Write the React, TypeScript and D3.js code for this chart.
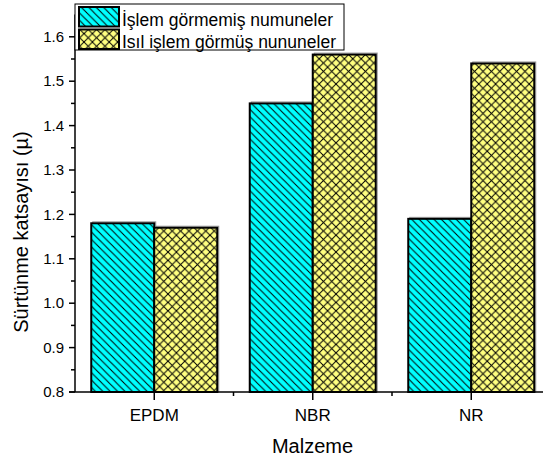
import React from 'react';
import * as d3 from 'd3';

const categories = ['EPDM', 'NBR', 'NR'];
const untreated = [1.18, 1.45, 1.19];
const treated = [1.17, 1.56, 1.54];
const seriesNames = ['İşlem görmemiş numuneler', 'Isıl işlem görmüş nununeler'];
const yTicks = [0.8, 0.9, 1.0, 1.1, 1.2, 1.3, 1.4, 1.5, 1.6];
const yMinorTicks = [0.85, 0.95, 1.05, 1.15, 1.25, 1.35, 1.45, 1.55];

const FONT = '"Liberation Sans", Arial, sans-serif';

const App = () => {
    const width = 543;
    const height = 457;

    const x = d3.scaleBand<string>()
        .domain(categories)
        .range([75, 550.5])
        .paddingInner(0.205)
        .paddingOuter(0.1025);

    const xSub = d3.scaleBand<string>()
        .domain(['a', 'b'])
        .range([0, x.bandwidth()]);

    const y = d3.scaleLinear()
        .domain([0.8, 1.65])
        .range([392, 14.6]);

    const step = x.step();
    const centers = categories.map(c => (x(c) as number) + x.bandwidth() / 2);
    const boundaries = categories.slice(1).map(c => (x(c) as number) - (step - x.bandwidth()) / 2);

    const series = [
        {key: 'a', values: untreated, fill: 'url(#hatchCyan)'},
        {key: 'b', values: treated, fill: 'url(#hatchYellow)'},
    ];

    const p = 7.4;
    const q = 8.4;

    return (
        <svg width={width} height={height} style={{position: 'absolute', left: 0, top: 0}}
             fontFamily={FONT}>
            <defs>
                <pattern id="hatchCyan" patternUnits="userSpaceOnUse" width={p} height={p}>
                    <rect width={p} height={p} fill="#00ffff"/>
                    <path d={`M0,0L${p},${p}M${-p / 2},${p / 2}L${p / 2},${p * 1.5}M${p / 2},${-p / 2}L${p * 1.5},${p / 2}`}
                          stroke="#000" strokeWidth={1}/>
                </pattern>
                <pattern id="hatchYellow" patternUnits="userSpaceOnUse" width={q} height={q}>
                    <rect width={q} height={q} fill="#ffff80"/>
                    <path d={`M0,0L${q},${q}M${-q / 2},${q / 2}L${q / 2},${q * 1.5}M${q / 2},${-q / 2}L${q * 1.5},${q / 2}`}
                          stroke="#000" strokeWidth={1}/>
                    <path d={`M0,${q}L${q},0M${-q / 2},${q / 2}L${q / 2},${-q / 2}M${q / 2},${q * 1.5}L${q * 1.5},${q / 2}`}
                          stroke="#000" strokeWidth={1}/>
                </pattern>
            </defs>

            {/* bars */}
            {series.map(s => categories.map((c, i) => {
                const bx = (x(c) as number) + (xSub(s.key) as number);
                const by = y(s.values[i]);
                return (
                    <g key={s.key + c}>
                        <rect x={bx + 1.5} y={by - 1.5} width={xSub.bandwidth()} height={y(0.8) - by + 1.5}
                              fill="none" stroke="#999" strokeWidth={1}/>
                        <rect x={bx} y={by} width={xSub.bandwidth()} height={y(0.8) - by}
                              fill={s.fill} stroke="#000" strokeWidth={2}/>
                    </g>
                );
            }))}

            {/* y axis */}
            <line x1={75} x2={75} y1={y(1.65)} y2={y(0.8)} stroke="#000" strokeWidth={1.5}/>
            {yTicks.map(t => (
                <g key={t}>
                    <line x1={69} x2={75} y1={y(t)} y2={y(t)} stroke="#000" strokeWidth={1.5}/>
                    <text x={64} y={y(t)} dy="0.35em" textAnchor="end" fontSize={15}>{t.toFixed(1)}</text>
                </g>
            ))}
            {yMinorTicks.map(t => (
                <line key={t} x1={71} x2={75} y1={y(t)} y2={y(t)} stroke="#000" strokeWidth={1.5}/>
            ))}

            {/* x axis */}
            <line x1={69} x2={width} y1={392} y2={392} stroke="#000" strokeWidth={1.5}/>
            {centers.map((cx, i) => (
                <g key={categories[i]}>
                    <line x1={cx} x2={cx} y1={392} y2={400} stroke="#000" strokeWidth={1.5}/>
                    <text x={cx} y={421} textAnchor="middle" fontSize={17}>{categories[i]}</text>
                </g>
            ))}
            {boundaries.map(bx => (
                <line key={bx} x1={bx} x2={bx} y1={392} y2={396} stroke="#000" strokeWidth={1.5}/>
            ))}

            {/* axis titles */}
            <text x={312.5} y={453} textAnchor="middle" fontSize={20}>Malzeme</text>
            <text transform="translate(28,232) rotate(-90)" textAnchor="middle" fontSize={20}>
                Sürtünme katsayısı (µ)
            </text>

            {/* legend */}
            <rect x={75} y={4} width={269} height={46} fill="#fff" stroke="#000" strokeWidth={1}/>
            {series.map((s, i) => (
                <g key={s.key}>
                    <rect x={79} y={7 + i * 22.5} width={40} height={19.5} fill={s.fill} stroke="#000" strokeWidth={2}/>
                    <text x={122} y={25.5 + i * 22.5} fontSize={17.5}>{seriesNames[i]}</text>
                </g>
            ))}
        </svg>
    );
};

export default App;
